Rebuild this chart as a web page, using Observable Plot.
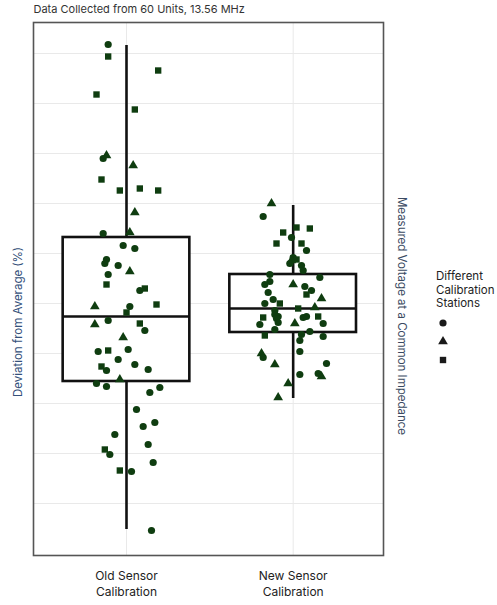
<!DOCTYPE html>
<html>
<head>
<meta charset="utf-8">
<script src="https://cdn.jsdelivr.net/npm/d3@7"></script>
<script src="https://cdn.jsdelivr.net/npm/@observablehq/plot@0.6"></script>
<style>
  html, body { margin: 0; padding: 0; background: #fff; }
  #wrap { position: relative; width: 497px; height: 605px; font-family: Inter, "Noto Sans", sans-serif; }
  #legend { position: absolute; left: 436px; top: 270px; font-size: 11.5px; line-height: 13.5px; color: #222; }
  #legend svg { display: block; margin-top: 2px; }
</style>
</head>
<body>
<div id="wrap"><div id="chart"></div><div id="legend"></div></div>
<script>
// Categories
const categories = ["Old Sensor\nCalibration", "New Sensor\nCalibration"];
const stations = ["Station 1", "Station 2", "Station 3"];
const stationCodes = {c: "Station 1", t: "Station 2", s: "Station 3"};

// Old sensor calibration: deviation values, horizontal jitter, station code
const oldValue = [2.59,2.47,2.33,2.09,1.94,1.45,1.48,1.38,1.24,1.13,1.15,1.13,0.91,0.70,0.71,0.58,0.55,0.44,0.40,0.38,0.32,0.29,0.19,0.13,0.15,
  -0.03,-0.03,-0.01,-0.09,-0.21,-0.17,-0.20,-0.27,-0.34,-0.48,-0.47,-0.46,-0.56,-0.63,-0.67,-0.61,-0.66,-0.76,-0.80,-0.83,-0.89,-0.84,
  -1.06,-1.19,-1.23,-1.31,-1.41,-1.46,-1.51,-1.59,-1.67,-1.68,-2.27];
const oldJitter = [-0.11,-0.11,0.19,-0.18,0.05,-0.14,-0.12,0.04,-0.15,-0.04,0.08,0.19,0.05,-0.14,0.02,-0.02,0.05,-0.12,-0.13,-0.05,0.02,-0.11,-0.12,0.08,0.11,
  -0.19,0.02,0.18,0.00,-0.19,-0.11,0.08,0.11,-0.02,-0.17,-0.11,0.01,-0.05,-0.15,-0.12,0.05,0.13,-0.04,-0.18,-0.12,0.14,0.20,
  0.06,0.17,0.10,-0.07,0.13,-0.13,-0.10,0.16,-0.04,0.03,0.15];
const oldStation = ["c","s","s","s","s","c","t","t","s","s","s","s","t","c","t","c","c","c","c","c","t","c","s","c","s",
  "t","c","s","s","t","c","s","c","t","c","s","c","c","s","c","c","c","t","c","c","c","c",
  "c","c","c","c","c","s","c","c","s","c","c"];

// New sensor calibration
const newValue = [1.00,0.87,0.76,0.75,0.71,0.66,0.60,0.60,0.53,0.46,0.44,0.43,0.40,0.38,0.33,0.29,0.26,0.22,0.19,0.19,0.17,0.13,0.09,0.11,0.05,
  0.04,0.00,0.00,-0.05,-0.04,-0.07,-0.14,-0.11,-0.13,-0.15,-0.14,-0.13,-0.13,-0.21,-0.19,-0.20,-0.20,-0.26,-0.28,-0.32,-0.31,-0.37,-0.33,
  -0.48,-0.50,-0.54,-0.61,-0.60,-0.71,-0.70,-0.73,-0.80,-0.94];
const newJitter = [-0.13,-0.18,0.02,0.10,-0.06,-0.01,-0.10,0.05,0.08,0.00,0.02,-0.01,-0.02,0.05,0.06,-0.14,0.16,-0.14,-0.17,0.00,0.07,0.11,0.08,-0.15,0.17,
  -0.12,-0.17,-0.08,0.03,0.13,-0.11,-0.18,-0.11,-0.09,-0.10,0.06,0.08,0.15,-0.20,-0.09,0.01,0.18,-0.11,0.10,-0.17,0.05,0.04,0.18,
  0.04,-0.19,-0.18,-0.11,0.20,0.04,0.15,0.17,-0.03,-0.09];
const newStation = ["t","c","s","s","s","c","s","s","c","c","s","t","c","c","c","c","c","c","c","t","c","c","s","c","t",
  "c","c","s","s","t","c","s","c","c","c","c","c","s","c","c","t","c","c","c","s","c","c","c",
  "c","t","c","t","c","c","c","t","t","t"];

// Box summaries (q1, median, q3, whisker ends)
const boxQ1 = [-0.78, -0.29];
const boxMedian = [-0.13, -0.05];
const boxQ3 = [0.66, 0.29];
const boxLow = [-2.26, -0.95];
const boxHigh = [2.58, 0.98];

const gridValues = [-2, -1.5, -1, -0.5, 0, 0.5, 1, 1.5, 2, 2.5];

const points = [
  ...oldValue.map((v, i) => ({group: 1, x: 1 + oldJitter[i], y: v, station: stationCodes[oldStation[i]]})),
  ...newValue.map((v, i) => ({group: 2, x: 2 + newJitter[i], y: v, station: stationCodes[newStation[i]]}))
];
const boxes = categories.map((c, i) => ({pos: i + 1, label: c, q1: boxQ1[i], med: boxMedian[i], q3: boxQ3[i], lo: boxLow[i], hi: boxHigh[i]}));
const halfW = 0.38;

const plot = Plot.plot({
  width: 497,
  height: 605,
  marginLeft: 33,
  marginRight: 114,
  marginTop: 22,
  marginBottom: 50,
  style: {fontFamily: "Inter, 'Noto Sans', sans-serif", background: "#fff", overflow: "visible"},
  x: {type: "linear", domain: [0.442, 2.542], axis: null},
  y: {domain: [-2.52, 2.81], axis: null},
  symbol: {domain: stations, range: ["circle", "triangle", "square"]},
  marks: [
    Plot.gridY(gridValues, {stroke: "#e9e9e9", strokeOpacity: 1, strokeWidth: 1}),
    Plot.gridX([1, 2], {stroke: "#e9e9e9", strokeOpacity: 1, strokeWidth: 1}),
    Plot.ruleX(boxes, {x: "pos", y1: "lo", y2: "hi", stroke: "#111", strokeWidth: 2.6}),
    Plot.rect(boxes, {x1: d => d.pos - halfW, x2: d => d.pos + halfW, y1: "q1", y2: "q3", fill: "#fff", stroke: "#111", strokeWidth: 2.6}),
    Plot.ruleY(boxes, {y: "med", x1: d => d.pos - halfW, x2: d => d.pos + halfW, stroke: "#111", strokeWidth: 2.6}),
    Plot.dot(points, {x: "x", y: "y", symbol: "station", fill: "#0f3d10", stroke: "none", r: 3.6}),
    Plot.frame({stroke: "#555", strokeWidth: 1.6}),
    Plot.text(["Data Collected from 60 Units, 13.56 MHz"], {frameAnchor: "top-left", dy: -13, textAnchor: "start", lineAnchor: "middle", fontSize: 11, fill: "#333"}),
    Plot.text(["Deviation from Average (%)"], {frameAnchor: "left", rotate: -90, textAnchor: "middle", lineAnchor: "middle", dx: -15, dy: 33, fontSize: 11.5, fill: "#34507a"}),
    Plot.text(["Measured Voltage at a Common Impedance"], {frameAnchor: "right", rotate: 90, textAnchor: "middle", lineAnchor: "middle", dx: 18, dy: 27, fontSize: 11.5, fill: "#3a4a62"}),
    Plot.text(boxes, {x: "pos", text: "label", frameAnchor: "bottom", lineAnchor: "middle", dy: 27, fontSize: 12, lineHeight: 1.33, fill: "#222"})
  ]
});
document.getElementById("chart").appendChild(plot);

// Legend
const legend = d3.select("#legend");
legend.append("div").html("Different<br>Calibration<br>Stations");
const lsvg = legend.append("svg").attr("width", 20).attr("height", 60);
const shapes = [d3.symbolCircle, d3.symbolTriangle, d3.symbolSquare];
stations.forEach((s, i) => {
  lsvg.append("path")
    .attr("transform", `translate(7,${10 + i * 18.5})`)
    .attr("d", d3.symbol(shapes[i], Math.PI * 3.6 * 3.6)())
    .attr("fill", "#1a1a1a");
});
</script>
</body>
</html>
